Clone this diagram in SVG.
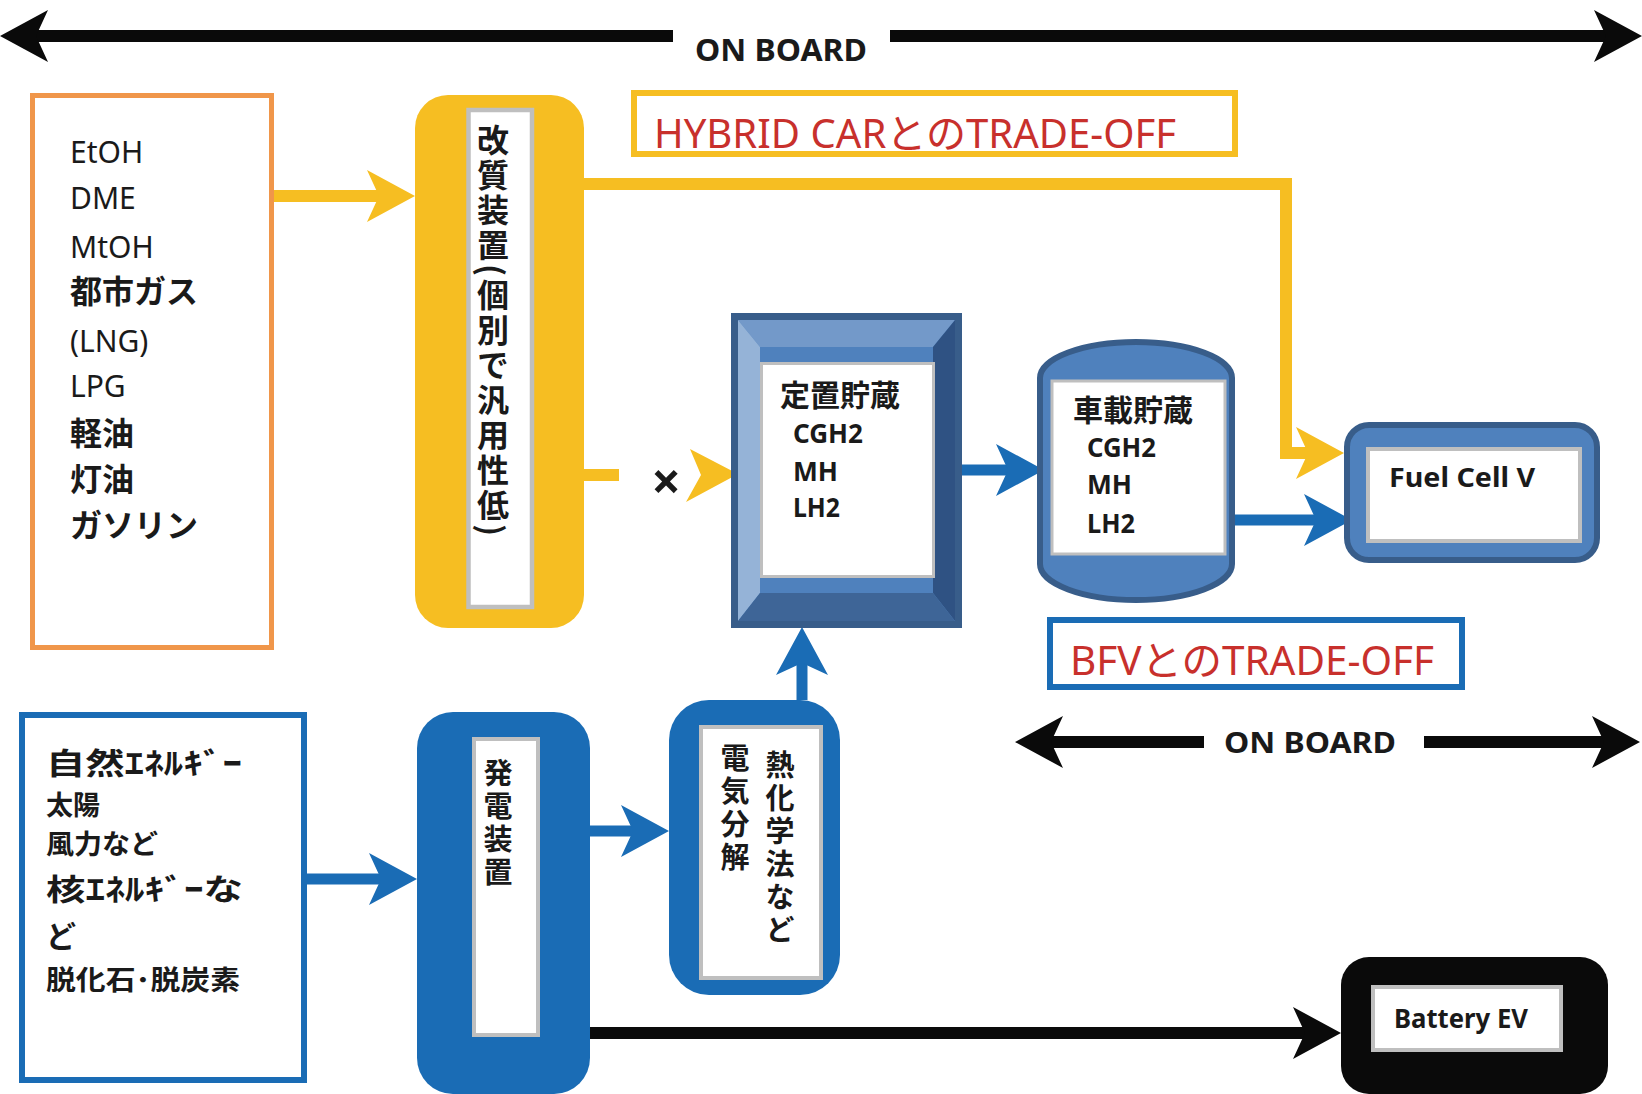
<svg xmlns="http://www.w3.org/2000/svg" width="1642" height="1094" viewBox="0 0 1642 1094">
  <style>
    .lat { font-family: "Noto Sans", "Noto Sans CJK JP", sans-serif; fill: #1a1a1a; }
    .cjk { font-family: "Noto Sans CJK JP", "Noto Sans", sans-serif; fill: #1a1a1a; font-weight: bold; }
    .b { font-weight: bold; }
    .red { font-family: "Noto Sans", "Noto Sans CJK JP", sans-serif; fill: #c8302c; font-size: 40px; }
    .vert { writing-mode: vertical-rl; font-family: "Noto Sans CJK JP", sans-serif; font-weight: bold; fill: #1a1a1a; }
    .ylw { stroke: #f6be22; stroke-width: 12; fill: none; }
    .blu { stroke: #1a6cb5; stroke-width: 11; fill: none; }
    .blk { stroke: #0a0a0a; stroke-width: 12; fill: none; }
    .inner { fill: #ffffff; stroke: #bfbfbf; }
  </style>
  <defs>
    <marker id="ah-y" viewBox="-14 -28 52 56" refX="0" refY="0" markerWidth="52" markerHeight="56" orient="auto" markerUnits="userSpaceOnUse">
      <path d="M36,0 L-12,-26 L0,0 L-12,26 Z" fill="#f6be22"/>
    </marker>
    <marker id="ah-b" viewBox="-14 -28 52 56" refX="0" refY="0" markerWidth="52" markerHeight="56" orient="auto" markerUnits="userSpaceOnUse">
      <path d="M36,0 L-12,-26 L0,0 L-12,26 Z" fill="#1a6cb5"/>
    </marker>
    <marker id="ah-k" viewBox="-14 -28 52 56" refX="0" refY="0" markerWidth="52" markerHeight="56" orient="auto" markerUnits="userSpaceOnUse">
      <path d="M36,0 L-12,-26 L0,0 L-12,26 Z" fill="#0a0a0a"/>
    </marker>
  </defs>

  <rect width="1642" height="1094" fill="#ffffff"/>

  <!-- ON BOARD ranges -->
  <g id="onboard-top">
    <path class="blk" d="M673,36 H36" stroke-width="13" marker-end="url(#ah-k)"/>
    <path class="blk" d="M890,36 H1606" stroke-width="13" marker-end="url(#ah-k)"/>
    <text class="lat b" x="695" y="61" font-size="31" textLength="172" lengthAdjust="spacingAndGlyphs">ON  BOARD</text>
  </g>
  <g id="onboard-bottom">
    <path class="blk" d="M1204,742 H1051" marker-end="url(#ah-k)"/>
    <path class="blk" d="M1424,742 H1604" marker-end="url(#ah-k)"/>
    <text class="lat b" x="1224" y="753" font-size="29" textLength="172" lengthAdjust="spacingAndGlyphs">ON  BOARD</text>
  </g>

  <!-- connectors -->
  <g id="connectors">
    <path class="ylw" d="M274,196 H379" marker-end="url(#ah-y)"/>
    <path class="ylw" d="M584,184 H1286 V453 H1308" stroke-width="11" marker-end="url(#ah-y)"/>
    <path class="ylw" d="M584,475 H619"/>
    <polygon points="738,474 690,449 701,475 686,502" fill="#f6be22"/>
    <path class="blu" d="M962,470 H1008" marker-end="url(#ah-b)"/>
    <path class="blu" d="M1234,520 H1316" marker-end="url(#ah-b)"/>
    <path class="blu" d="M307,879 H381" marker-end="url(#ah-b)"/>
    <path class="blu" d="M590,831 H633" marker-end="url(#ah-b)"/>
    <path class="blu" d="M802,700 V663" stroke-width="10" marker-end="url(#ah-b)"/>
    <path class="blk" d="M584,1033 H1305" marker-end="url(#ah-k)"/>
  </g>
  <text id="blocked" class="lat b" x="666" y="500" font-size="52" text-anchor="middle">×</text>

  <!-- fuel sources -->
  <g id="fuels">
    <rect x="32.5" y="95.5" width="239" height="552" fill="#ffffff" stroke="#f0964a" stroke-width="5"/>
    <text class="lat" x="70" y="163" font-size="30">EtOH</text>
    <text class="lat" x="70" y="209" font-size="30">DME</text>
    <text class="lat" x="70" y="258" font-size="30">MtOH</text>
    <text class="cjk" x="70" y="303" font-size="32">都市ガス</text>
    <text class="lat" x="70" y="352" font-size="30">(LNG)</text>
    <text class="lat" x="70" y="397" font-size="30">LPG</text>
    <text class="cjk" x="70" y="445" font-size="32">軽油</text>
    <text class="cjk" x="70" y="491" font-size="32">灯油</text>
    <text class="cjk" x="70" y="537" font-size="32">ガソリン</text>
  </g>

  <!-- reformer -->
  <g id="reformer">
    <rect x="415" y="95" width="169" height="533" rx="33" fill="#f6be22"/>
    <rect class="inner" x="468.5" y="110" width="63.5" height="497" stroke-width="4.5"/>
    <text class="vert" x="493" y="124" font-size="32" letter-spacing="3">改質装置(個別で汎用性低)</text>
  </g>

  <!-- trade-off notes -->
  <g id="hybrid-tradeoff">
    <rect x="634" y="93" width="601" height="61" fill="#ffffff" stroke="#f6be22" stroke-width="6"/>
    <text class="red" x="654" y="148" textLength="522" lengthAdjust="spacingAndGlyphs">HYBRID CARとのTRADE-OFF</text>
  </g>
  <g id="bfv-tradeoff">
    <rect x="1050" y="620" width="412" height="67" fill="#ffffff" stroke="#1a6cb5" stroke-width="6"/>
    <text class="red" x="1070" y="675" textLength="364" lengthAdjust="spacingAndGlyphs">BFVとのTRADE-OFF</text>
  </g>

  <!-- stationary storage (bevel block) -->
  <g id="stationary-storage">
    <rect x="734.5" y="316.5" width="224" height="308" fill="#4f81bd" stroke="#385d8a" stroke-width="7"/>
    <polygon points="738,320 955,320 933,347 760,347" fill="#7399c9"/>
    <polygon points="738,320 760,347 760,593 738,621" fill="#95b3d7"/>
    <polygon points="955,320 955,621 933,593 933,347" fill="#2f5283"/>
    <polygon points="738,621 955,621 933,593 760,593" fill="#3e6597"/>
    <rect class="inner" x="761.5" y="363.5" width="172" height="213" stroke-width="3"/>
    <text class="cjk" x="780" y="406" font-size="30">定置貯蔵</text>
    <text class="lat b" x="793" y="443" font-size="27" textLength="70" lengthAdjust="spacingAndGlyphs">CGH2</text>
    <text class="lat b" x="793" y="481" font-size="27" textLength="45" lengthAdjust="spacingAndGlyphs">MH</text>
    <text class="lat b" x="793" y="517" font-size="27" textLength="47" lengthAdjust="spacingAndGlyphs">LH2</text>
  </g>

  <!-- on-board storage (can) -->
  <g id="onboard-storage">
    <path d="M1040,378 A96,36 0 0 1 1232,378 V564 A96,36 0 0 1 1040,564 Z" fill="#4f81bd" stroke="#385d8a" stroke-width="6"/>
    <rect class="inner" x="1052" y="381" width="173" height="173" stroke-width="3"/>
    <text class="cjk" x="1073" y="421" font-size="30">車載貯蔵</text>
    <text class="lat b" x="1087" y="457" font-size="27" textLength="69" lengthAdjust="spacingAndGlyphs">CGH2</text>
    <text class="lat b" x="1087" y="494" font-size="27" textLength="45" lengthAdjust="spacingAndGlyphs">MH</text>
    <text class="lat b" x="1087" y="533" font-size="27" textLength="48" lengthAdjust="spacingAndGlyphs">LH2</text>
  </g>

  <!-- fuel cell vehicle -->
  <g id="fuel-cell-v">
    <rect x="1347" y="425" width="250" height="135" rx="22" fill="#4f81bd" stroke="#385d8a" stroke-width="6"/>
    <rect class="inner" x="1368" y="449" width="212" height="92" stroke-width="4"/>
    <text class="lat b" x="1389" y="487" font-size="26" textLength="146" lengthAdjust="spacingAndGlyphs">Fuel  Cell  V</text>
  </g>

  <!-- primary energy -->
  <g id="primary-energy">
    <rect x="22" y="715" width="282" height="365" fill="#ffffff" stroke="#1a6cb5" stroke-width="6"/>
    <text class="cjk" x="46" y="774" font-size="30" textLength="196" lengthAdjust="spacingAndGlyphs">自然ｴﾈﾙｷﾞｰ</text>
    <text class="cjk" x="46" y="815" font-size="27">太陽</text>
    <text class="cjk" x="46" y="854" font-size="27" textLength="112" lengthAdjust="spacingAndGlyphs">風力など</text>
    <text class="cjk" x="46" y="900" font-size="30" textLength="197" lengthAdjust="spacingAndGlyphs">核ｴﾈﾙｷﾞｰな</text>
    <text class="cjk" x="46" y="947" font-size="30">ど</text>
    <text class="cjk" x="46" y="990" font-size="27" textLength="194" lengthAdjust="spacingAndGlyphs">脱化石･脱炭素</text>
  </g>

  <!-- power generation -->
  <g id="generator">
    <rect x="417" y="712" width="173" height="382" rx="36" fill="#1a6cb5"/>
    <rect class="inner" x="474" y="739" width="64" height="296" stroke-width="4"/>
    <text class="vert" x="498" y="758" font-size="29" letter-spacing="4">発電装置</text>
  </g>

  <!-- hydrogen production -->
  <g id="h2-production">
    <rect x="669" y="700" width="171" height="295" rx="40" fill="#1a6cb5"/>
    <rect class="inner" x="701" y="727" width="120" height="251" stroke-width="4"/>
    <text class="vert" x="780" y="750" font-size="29" letter-spacing="4">熱化学法など</text>
    <text class="vert" x="735" y="743" font-size="29" letter-spacing="4">電気分解</text>
  </g>

  <!-- battery EV -->
  <g id="battery-ev">
    <rect x="1341" y="957" width="267" height="137" rx="28" fill="#0a0a0a"/>
    <rect class="inner" x="1373" y="987" width="188" height="63" stroke-width="4"/>
    <text class="lat b" x="1394" y="1028" font-size="27" textLength="134" lengthAdjust="spacingAndGlyphs">Battery EV</text>
  </g>
</svg>
